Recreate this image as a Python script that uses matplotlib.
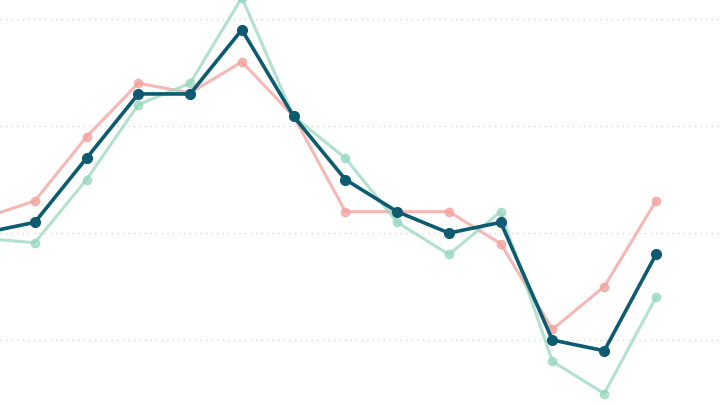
import matplotlib
matplotlib.use("Agg")
import matplotlib.pyplot as plt
import numpy as np

# 데이터
periods = list(range(14))
series_pink = [21.4, 23.0, 29.0, 34.0, 33.1, 36.0, 30.9, 22.0, 22.0, 22.0, 19.0, 11.0, 15.0, 23.0]
series_mint = [19.5, 19.1, 25.0, 32.0, 34.0, 42.0, 30.9, 27.0, 21.0, 18.0, 22.0, 8.0, 5.0, 14.0]
series_dark = [20.0, 21.0, 27.0, 33.0, 33.0, 39.0, 30.9, 25.0, 22.0, 20.0, 21.0, 10.0, 9.0, 18.0]
grid_values = [10, 20, 30, 40]

fig = plt.figure(figsize=(7.2, 4.05), dpi=100)
ax = fig.add_axes([0, 0, 1, 1])

# 점선 그리드
for g in grid_values:
    ax.axhline(g, color="#d9d9d9", linestyle=(0, (1, 3)), linewidth=1.0, zorder=0)

ax.plot(periods, series_pink, color="#f4a19c", linewidth=2.2, marker="o",
        markersize=6, alpha=0.75, zorder=2)
ax.plot(periods, series_mint, color="#98d7c0", linewidth=2.2, marker="o",
        markersize=6, alpha=0.75, zorder=2)
ax.plot(periods, series_dark, color="#0c5b70", linewidth=2.6, marker="o",
        markersize=7, zorder=3)

ax.set_xlim(0.328, 14.236)
ax.set_ylim(3.93, 41.78)
ax.axis("off")

fig.savefig("out.png", dpi=100)
